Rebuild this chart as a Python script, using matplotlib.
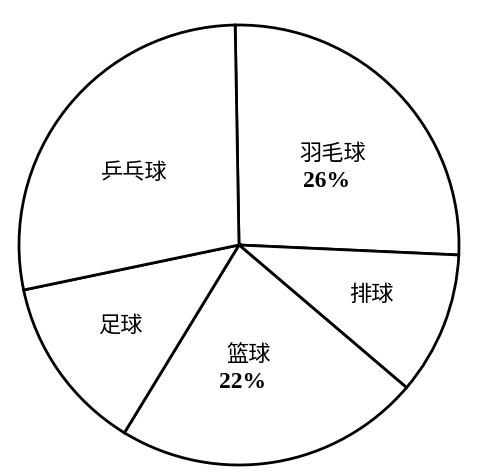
import numpy as np
import matplotlib
matplotlib.use("Agg")
import matplotlib.pyplot as plt

# 各项运动所占百分比（按图中扇形角度估读）
sports = ["羽毛球", "排球", "篮球", "足球", "乒乓球"]
shares = [26, 10.5, 22.5, 13, 28]
pct_labels = ["26%", "", "22%", "", ""]

W, H = 484, 472
fig = plt.figure(figsize=(W / 100, H / 100), dpi=100)
ax = fig.add_axes([0, 0, 1, 1])

cx, cy, R = 239, H - 245, 220
wedges, _ = ax.pie(shares, startangle=91, counterclock=False,
                   center=(cx, cy), radius=R, frame=True,
                   colors=["white"] * len(shares),
                   wedgeprops=dict(edgecolor="black", linewidth=2.0))
ax.set_xlim(0, W)
ax.set_ylim(0, H)
ax.set_aspect("equal")
ax.axis("off")

# 标签离圆心的距离（半径比例）和角度微调
label_r = [0.55, 0.64, 0.56, 0.65, 0.58]
label_dt = [-4, 1, -5, -1, 4]
cjk = ["Noto Sans CJK SC", "DejaVu Sans"]
for w, name, pct, rr, dt in zip(wedges, sports, pct_labels, label_r, label_dt):
    th = np.deg2rad((w.theta1 + w.theta2) / 2 + dt)
    x = cx + rr * R * np.cos(th)
    y = cy + rr * R * np.sin(th)
    if pct:
        ax.text(x + 1, y + 13, name, ha="center", va="center", fontsize=16,
                family=cjk)
        ax.text(x - 5, y - 15, pct, ha="center", va="center", fontsize=17,
                family="Liberation Serif", fontweight="bold")
    else:
        ax.text(x, y, name, ha="center", va="center", fontsize=16, family=cjk)

fig.savefig("out.png", dpi=100)
